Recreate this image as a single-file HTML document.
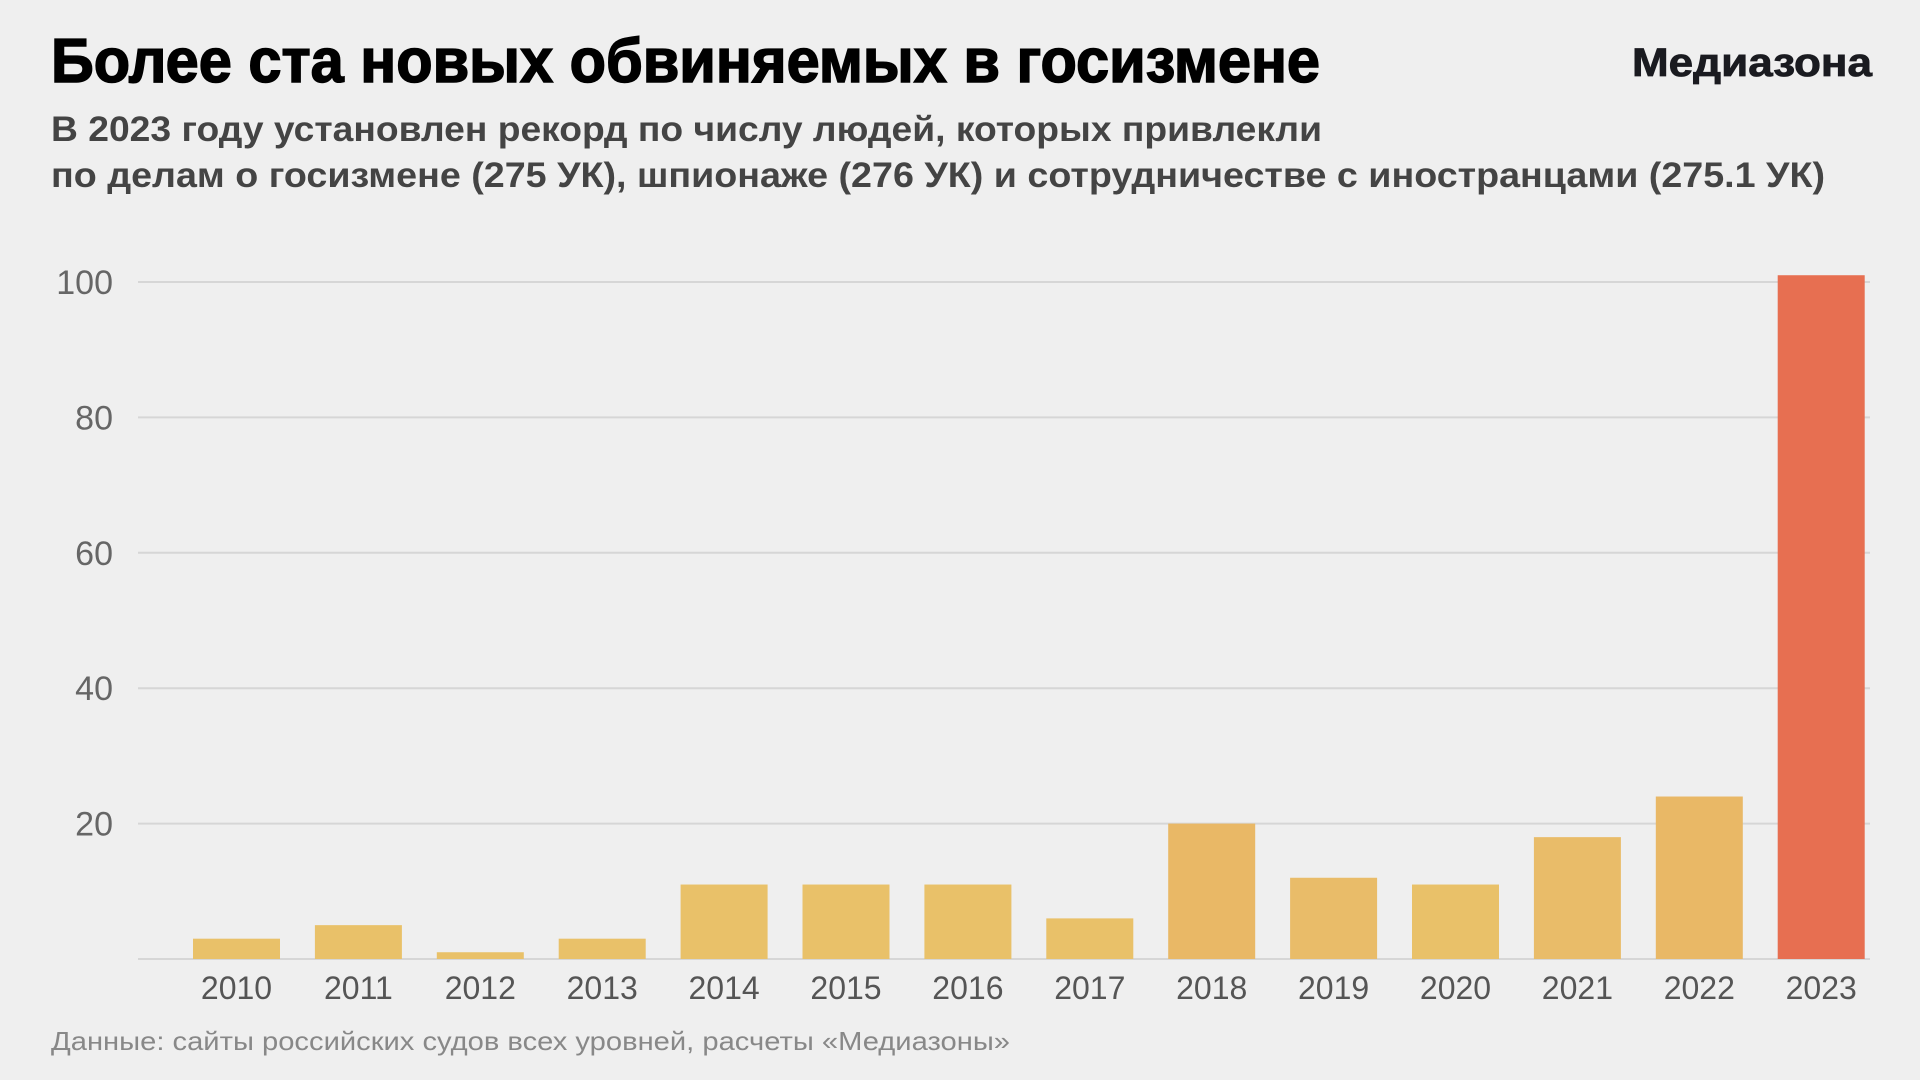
<!DOCTYPE html>
<html><head><meta charset="utf-8"><style>
html,body{margin:0;padding:0;background:#efefef;}
svg{display:block;font-family:"Liberation Sans","DejaVu Sans",sans-serif;}
</style></head><body>
<svg width="1920" height="1080" viewBox="0 0 1920 1080">
<rect width="1920" height="1080" fill="#efefef"/>
<text x="51" y="82" font-size="62" font-weight="bold" fill="#000" stroke="#000" stroke-width="1.5" textLength="1269" lengthAdjust="spacingAndGlyphs">Более ста новых обвиняемых в госизмене</text>
<text x="1872" y="76" font-size="40" font-weight="bold" fill="#1a1b20" stroke="#1a1b20" stroke-width="0.8" text-anchor="end" textLength="240" lengthAdjust="spacingAndGlyphs">Медиазона</text>
<text x="51" y="141" font-size="35" font-weight="bold" fill="#444" textLength="1271" lengthAdjust="spacingAndGlyphs">В 2023 году установлен рекорд по числу людей, которых привлекли</text>
<text x="51" y="187" font-size="35" font-weight="bold" fill="#444" textLength="1774" lengthAdjust="spacingAndGlyphs">по делам о госизмене (275 УК), шпионаже (276 УК) и сотрудничестве с иностранцами (275.1 УК)</text>
<g id="grid"></g>
<g id="bars"></g>
<g id="xlabels"></g>
<text x="51" y="1050" font-size="26" fill="#888" textLength="959" lengthAdjust="spacingAndGlyphs">Данные: сайты российских судов всех уровней, расчеты «Медиазоны»</text>
</svg>
<script>
const years = ["2010","2011","2012","2013","2014","2015","2016","2017","2018","2019","2020","2021","2022","2023"];
const counts = [3,5,1,3,11,11,11,6,20,12,11,18,24,101];
const yTicks = [0,20,40,60,80,100];
const yTickLabels = ["","20","40","60","80","100"];

const NS="http://www.w3.org/2000/svg";
const y0=959, y100=282, xL=138, xR=1870, firstX=193, pitch=121.9, bw=87;
function yScale(v){return y0-(y0-y100)*v/100;}
function xScale(i){return firstX+i*pitch;}
function color(v){
  if(v>=50) return "#e76f51";
  if(v>=20) return "#e9b866";
  if(v>=12) return "#e9bc69";
  return "#e9c169";
}
const grid=document.getElementById('grid');
yTicks.forEach((t,i)=>{
  const l=document.createElementNS(NS,'line');
  
  
  l.setAttribute('x1',xL);l.setAttribute('x2',xR);
  l.setAttribute('y1',yScale(t));l.setAttribute('y2',yScale(t));
  l.setAttribute('stroke','#d6d6d6');l.setAttribute('stroke-width','2');
  grid.appendChild(l);
  if(yTickLabels[i]){
    const tx=document.createElementNS(NS,'text');
    
    
    tx.setAttribute('x',113);tx.setAttribute('y',yScale(t)+12);
    tx.setAttribute('text-anchor','end');tx.setAttribute('font-size','34');
    tx.setAttribute('fill','#666');
    tx.textContent=yTickLabels[i];
    grid.appendChild(tx);
  }
});
const bars=document.getElementById('bars'), xl=document.getElementById('xlabels');
counts.forEach((v,i)=>{
  const r=document.createElementNS(NS,'rect');
  
  
  r.setAttribute('x',xScale(i));r.setAttribute('width',bw);
  r.setAttribute('y',yScale(v));r.setAttribute('height',y0-yScale(v));
  r.setAttribute('fill',color(v));
  bars.appendChild(r);
  const t=document.createElementNS(NS,'text');
  
  
  t.setAttribute('x',xScale(i)+bw/2);t.setAttribute('y',999);
  t.setAttribute('text-anchor','middle');t.setAttribute('font-size','32');
  t.setAttribute('fill','#555');
  t.textContent=years[i];
  xl.appendChild(t);
});
</script>
</body></html>
